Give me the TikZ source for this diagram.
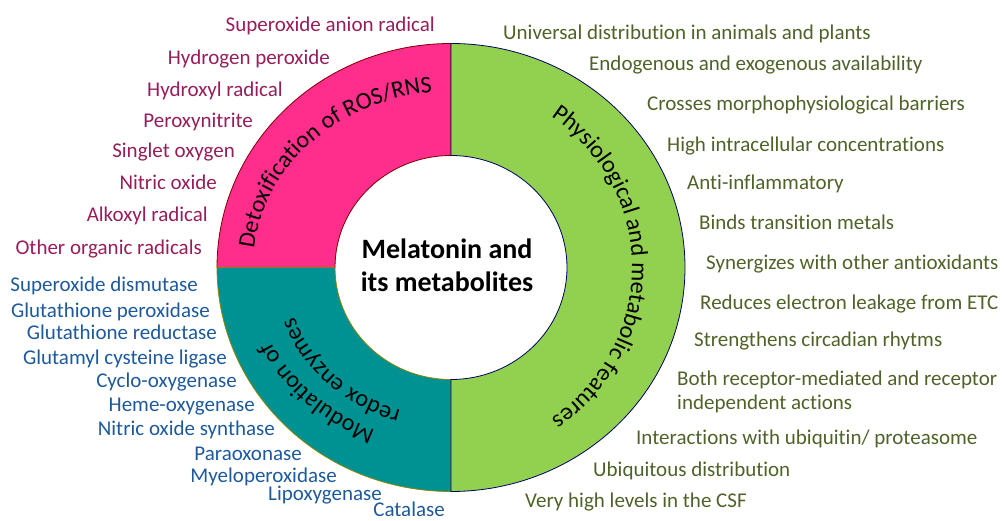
\documentclass[tikz,border=0pt]{standalone}
\usepackage{fontspec}
\setmainfont{Carlito}[Ligatures=NoCommon]
\usepackage{tikz}
\usetikzlibrary{decorations.text}
\definecolor{rospink}{RGB}{255,45,140}
\definecolor{enzteal}{RGB}{0,146,146}
\definecolor{featgreen}{RGB}{146,208,80}
\definecolor{rostext}{RGB}{150,30,90}
\definecolor{enztext}{RGB}{30,90,155}
\definecolor{feattext}{RGB}{79,98,40}
\tikzset{
list item/.style = {
    inner sep=0pt,
    font=\fontsize{21}{24}\selectfont
  },
ros item/.style = {list item, text=rostext, anchor=base east},
enzyme item/.style = {list item, text=enztext, anchor=base east},
feature item/.style = {list item, text=feattext, anchor=base west, align=left},
sector/.style = {line width=0.8pt},
ring label/.style = {
    decorate,
    decoration={text along path, text align=center,
      text={|\fontsize{24}{24}\selectfont|#1}}
  }
}

\begin{document}
\begin{tikzpicture}[x=1pt, y=1pt]
\useasboundingbox (0,0) rectangle (1004,520);
\coordinate (hub) at (451,252.5);
% the three sectors of the ring
\foreach \a/\b/\col/\edge in {90/180/rospink/red!50!black, 180/270/enzteal/olive, 270/450/featgreen/blue!40!black}
  \draw[sector, fill=\col, draw=\edge] ([shift={(\a:234 and 224)}]hub)
    arc[start angle=\a, end angle=\b, x radius=234, y radius=224]
    -- ([shift={(\b:116 and 112)}]hub)
    arc[start angle=\b, end angle=\a, x radius=116, y radius=112] -- cycle;
\node[font=\bfseries\fontsize{28}{33}\selectfont, align=center] (hubtext) at (447,255) {Melatonin and\\its metabolites};
% curved titles
\path[ring label={Detoxification of ROS/RNS}] ([xshift=-198pt]hub) arc[start angle=180, end angle=90, x radius=198, y radius=176];
\path[ring label={Physiological and metabolic features}] ([yshift=181pt]hub) arc[start angle=90, end angle=-90, radius=181];
\path[ring label={Modulation of}] ([yshift=-176pt]hub) arc[start angle=270, end angle=180, x radius=198, y radius=176];
\path[ring label={redox enzymes}] ([yshift=-150pt]hub) arc[start angle=270, end angle=180, x radius=166, y radius=150];
% lists
\foreach \x/\y/\t [count=\i] in {
  435/25/Superoxide anion radical,
  330/58/Hydrogen peroxide,
  283/90/Hydroxyl radical,
  253/121/Peroxynitrite,
  235/151/Singlet oxygen,
  217/183/Nitric oxide,
  208/215/Alkoxyl radical,
  202/248/Other organic radicals}
  \node[ros item] (ros\i) at (\x,{513-\y}) {\t};
\foreach \x/\y/\t [count=\i] in {
  198/285/Superoxide dismutase,
  210/310/Glutathione peroxidase,
  217/333/Glutathione reductase,
  227/357/Glutamyl cysteine ligase,
  237/380/Cyclo-oxygenase,
  255/404/Heme-oxygenase,
  275/428/Nitric oxide synthase,
  302/453/Paraoxonase,
  337/475/Myeloperoxidase,
  382/493/Lipoxygenase,
  445/509/Catalase}
  \node[enzyme item] (enz\i) at (\x,{513-\y}) {\t};
\foreach \x/\y/\t [count=\i] in {
  503/33/Universal distribution in animals and plants,
  589/64/Endogenous and exogenous availability,
  647/104/Crosses morphophysiological barriers,
  667/145/High intracellular concentrations,
  687/183/Anti-inflammatory,
  699/223/Binds transition metals,
  706/263/Synergizes with other antioxidants,
  700/302/Reduces electron leakage from ETC,
  694/339/Strengthens circadian rhytms,
  677/402/{Both receptor-mediated and receptor\\independent actions},
  636/437/{Interactions with ubiquitin/ proteasome},
  593/469/Ubiquitous distribution,
  525/500/Very high levels in the CSF}
  \node[feature item] (feat\i) at (\x,{513-\y}) {\t};
\end{tikzpicture}
\end{document}
